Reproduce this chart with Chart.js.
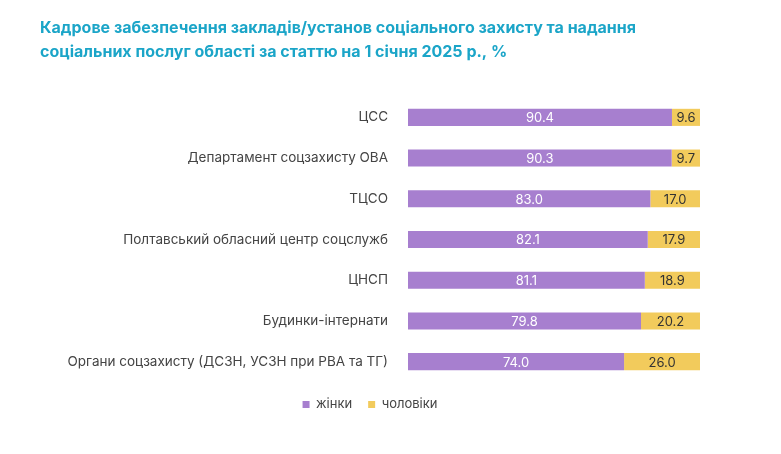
<!DOCTYPE html>
<html>
<head>
<meta charset="utf-8">
<script src="https://cdn.jsdelivr.net/npm/chart.js@4"></script>
<style>
  body { margin: 0; background: #fff; }
  #wrap { width: 781px; height: 454px; position: relative; }
</style>
</head>
<body>
<div id="wrap"><canvas id="chart"></canvas></div>
<script>
const categories = ["ЦСС", "Департамент соцзахисту ОВА", "ТЦСО", "Полтавський обласний центр соцслужб", "ЦНСП", "Будинки-інтернати", "Органи соцзахисту (ДСЗН, УСЗН при РВА та ТГ)"];
const women = [90.4, 90.3, 83.0, 82.1, 81.1, 79.8, 74.0];
const men = [9.6, 9.7, 17.0, 17.9, 18.9, 20.2, 26.0];

// value labels centred on each segment
const barLabels = {
    id: "barLabels",
    afterDatasetsDraw(chart) {
        const ctx = chart.ctx;
        ctx.save();
        ctx.font = "13px Inter, 'Noto Sans', sans-serif";
        ctx.textAlign = "center";
        ctx.textBaseline = "middle";
        chart.data.datasets.forEach((ds, i) => {
            chart.getDatasetMeta(i).data.forEach((bar, j) => {
                ctx.fillStyle = i === 0 ? "#ffffff" : "#333333";
                const mid = (bar.x + bar.base) / 2;
                ctx.fillText(ds.data[j].toFixed(1), mid, bar.y + 1);
            });
        });
        ctx.restore();
    }
};

const ctx = document.getElementById("chart").getContext("2d");
new Chart(ctx, {
    type: "bar",
    data: {
        labels: categories,
        datasets: [
            { label: "жінки", data: women, backgroundColor: "#a77fcf", barPercentage: 0.42, categoryPercentage: 1 },
            { label: "чоловіки", data: men, backgroundColor: "#f2cb5c", barPercentage: 0.42, categoryPercentage: 1 }
        ]
    },
    options: {
        indexAxis: "y",
        responsive: true,
        maintainAspectRatio: false,
        animation: false,
        layout: { padding: { left: 40, right: 81, top: 10, bottom: 33 } },
        scales: {
            x: { stacked: true, min: 0, max: 100, display: false },
            y: {
                stacked: true,
                afterFit: (scale) => { scale.width = 368; },
                grid: { display: false },
                border: { display: false },
                ticks: { color: "#444", font: { size: 13.5, family: "Inter, 'Noto Sans', sans-serif" }, padding: 12 }
            }
        },
        plugins: {
            title: {
                display: true,
                align: "start",
                text: ["Кадрове забезпечення закладів/установ соціального захисту та надання", "соціальних послуг області за статтю на 1 січня 2025 р., %"],
                color: "#1ba5c8",
                font: { size: 16, weight: "bold", family: "Inter, 'Noto Sans', sans-serif", lineHeight: 1.5 },
                padding: { top: 6, bottom: 33 }
            },
            legend: {
                position: "bottom",
                labels: { usePointStyle: true, pointStyle: "rect", boxWidth: 7, boxHeight: 7, color: "#444", font: { size: 13, family: "Inter, 'Noto Sans', sans-serif" }, padding: 16 }
            },
            tooltip: { enabled: false }
        }
    },
    plugins: [barLabels]
});
</script>
</body>
</html>
